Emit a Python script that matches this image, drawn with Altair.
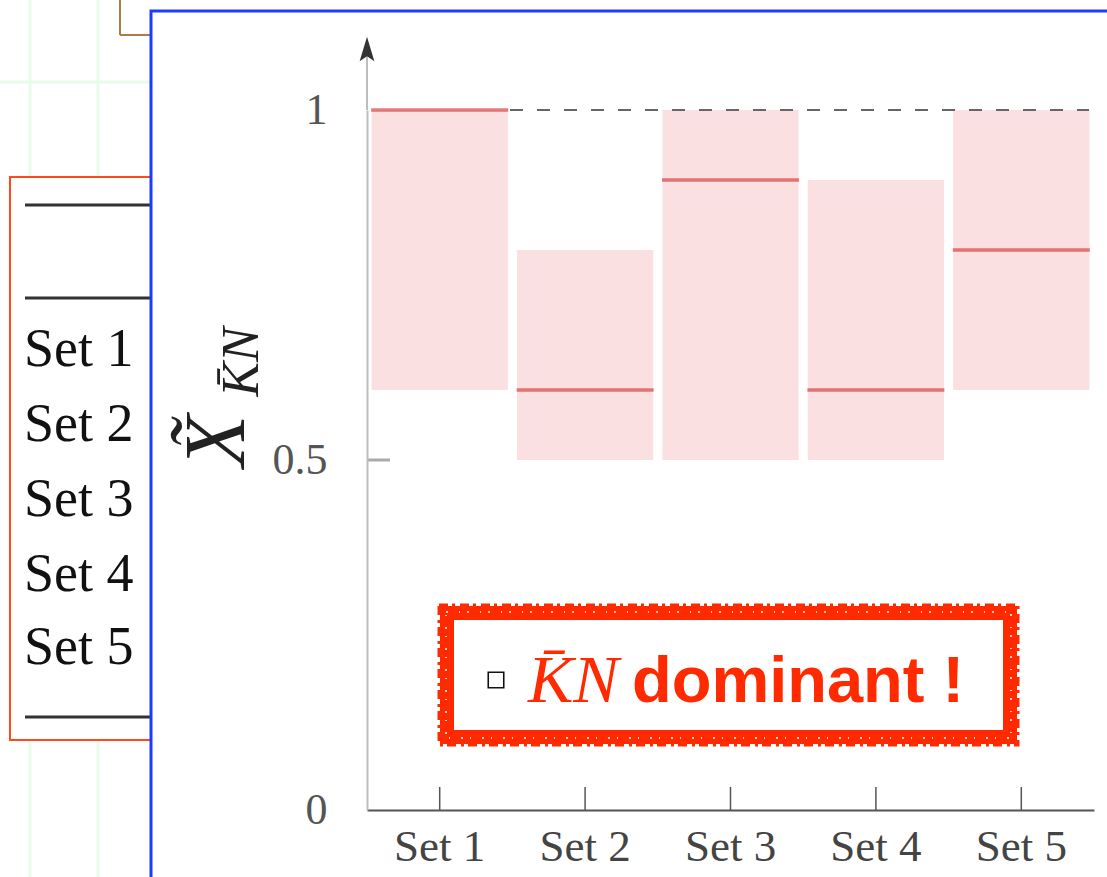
import altair as alt
import pandas as pd

# Interval per parameter set: lower edge, upper edge and central value
sets = ["Set 1", "Set 2", "Set 3", "Set 4", "Set 5"]
low = [0.6, 0.5, 0.5, 0.5, 0.6]
high = [1.0, 0.8, 1.0, 0.9, 1.0]
central = [1.0, 0.6, 0.9, 0.6, 0.8]
y_ticks = [0, 0.5, 1]

df = pd.DataFrame({"set": sets, "low": low, "high": high, "central": central})
one = pd.DataFrame({"k": [0]})

# plot area origin on the page
OX, OY = 367, 110
W, H = 727, 700


def px(v):
    return alt.value(v - OX)


def py(v):
    return alt.value(v - OY)


xs = alt.Scale(domain=sets, paddingInner=0.063, paddingOuter=0.0315)
ys = alt.Scale(domain=[0, 1])
X = alt.X("set:N", scale=xs, sort=sets,
          axis=alt.Axis(title=None, labelAngle=0, ticks=False, domainColor="#555",
                        domainWidth=2, labelFont="Liberation Serif", labelFontSize=45,
                        labelColor="#444", labelPadding=14, zindex=1))

# ---- slide backdrop ----
grid_v = [
    alt.Chart(one).mark_rule(color="#e9fbe9", strokeWidth=3).encode(x=px(gx), y=py(0), y2=py(877))
    for gx in (30, 98)
]
grid_h = alt.Chart(one).mark_rule(color="#e9fbe9", strokeWidth=3).encode(
    x=px(0), x2=px(150), y=py(82))
brown = alt.Chart(one).mark_rule(color="#b07a45", strokeWidth=2).encode(
    x=px(120), y=py(0), y2=py(35))
brown_h = alt.Chart(one).mark_rule(color="#b07a45", strokeWidth=2).encode(
    x=px(120), x2=px(152), y=py(35))

table_box = alt.Chart(one).mark_rect(fill="white", stroke="#ff4a1c", strokeWidth=2).encode(
    x=px(10), x2=px(200), y=py(177), y2=py(740))
table_lines = [
    alt.Chart(one).mark_rule(color="#333", strokeWidth=3).encode(x=px(25), x2=px(152), y=py(yy))
    for yy in (205, 298, 717)
]
table_text = [
    alt.Chart(one).mark_text(text=s, align="left", baseline="middle", font="Liberation Serif",
                             fontSize=54, color="#111").encode(x=px(24), y=py(yy))
    for s, yy in zip(sets, (350, 425, 500, 575, 648))
]

blue_box = alt.Chart(one).mark_rect(fill="white", stroke="#1a3cff", strokeWidth=3).encode(
    x=px(151), x2=px(1130), y=py(11), y2=py(900))

# ---- chart body ----
bars = alt.Chart(df).mark_bar(color="#fbe0e1").encode(
    x=X, y=alt.Y("low:Q", scale=ys,
                 axis=alt.Axis(values=y_ticks, title=None, ticks=False, grid=False,
                               domainColor="#bdbdbd", domainWidth=2, zindex=1,
                               labelFont="Liberation Serif", labelFontSize=44,
                               labelColor="#555", labelPadding=40,
                               labelExpr="datum.value == 0.5 ? '0.5' : format(datum.value, 'd')")),
    y2="high:Q")

# dashed reference at unity, to the right of the first interval
ref_line = alt.Chart(one).mark_rule(color="#666", strokeWidth=2, strokeDash=[13, 14]).encode(
    x=alt.value(143), x2=alt.value(722), y=alt.datum(1))

centers = alt.Chart(df).mark_tick(color="#d94444", thickness=3.5, size=137).encode(
    x=alt.X("set:N", scale=xs, sort=sets), y=alt.Y("central:Q", scale=ys))

x_ticks = alt.Chart(df).mark_rule(color="#555", strokeWidth=1.5).encode(
    x=alt.X("set:N", scale=xs, sort=sets), y=alt.value(H), y2=alt.value(H - 23))
y_tick = alt.Chart(one).mark_rule(color="#aaa", strokeWidth=3).encode(
    x=alt.value(0), x2=alt.value(23), y=alt.datum(0.5))

axis_ext = alt.Chart(one).mark_rule(color="#bdbdbd", strokeWidth=2).encode(
    x=alt.value(0), y=alt.value(0), y2=alt.value(-56))
arrow = alt.Chart(one).mark_point(shape="M-0.6,1L0,-1L0.6,1L0,0.6Z", filled=True, color="#333",
                                  size=600, opacity=1).encode(x=alt.value(0), y=alt.value(-61))

y_title_main = alt.Chart(one).mark_text(text="X\u0303", angle=270, font="Liberation Serif",
                                        fontStyle="italic", fontSize=86, color="#222",
                                        baseline="alphabetic").encode(x=px(244), y=py(441))
y_title_sub = alt.Chart(one).mark_text(text="K\u0304N", angle=270, font="Liberation Serif",
                                       fontStyle="italic", fontSize=52, color="#222",
                                       baseline="alphabetic").encode(x=px(258), y=py(362))

# ---- stamped note ----
stamp = alt.Chart(one).mark_rect(fill="white", stroke="#ff2a00", strokeWidth=14).encode(
    x=px(447), x2=px(1010), y=py(613), y2=py(737))
stamp_grain = alt.Chart(one).mark_rect(fill=None, stroke="white", strokeWidth=1.5,
                                       strokeDash=[2, 11, 1, 7]).encode(
    x=px(446), x2=px(1011), y=py(612), y2=py(738))
stamp_edge = alt.Chart(one).mark_rect(fill=None, stroke="#ff2a00", strokeWidth=3,
                                      strokeDash=[9, 4, 3, 5]).encode(
    x=px(439), x2=px(1018), y=py(605), y2=py(745))
box = alt.Chart(one).mark_point(shape="square", filled=False, color="#111",
                                strokeWidth=1.6, size=240, opacity=1).encode(x=px(496), y=py(680))
kn = alt.Chart(one).mark_text(text="K\u0304N", align="left", baseline="alphabetic",
                              font="Liberation Serif", fontStyle="italic", fontSize=68,
                              color="#ff2a00").encode(x=px(528), y=py(702))
dom = alt.Chart(one).mark_text(text="dominant !", align="left", baseline="alphabetic",
                               font="Liberation Sans", fontWeight="bold", fontSize=65,
                               color="#ff2a00").encode(x=px(632), y=py(702))

chart = alt.layer(
    *grid_v, grid_h, brown, brown_h, table_box, *table_lines, *table_text, blue_box,
    bars, ref_line, centers, x_ticks, y_tick, axis_ext, arrow,
    y_title_main, y_title_sub, stamp, stamp_grain, stamp_edge, box, kn, dom,
).properties(
    width=W, height=H,
    autosize=alt.AutoSizeParams(type="none"),
    padding={"left": OX, "top": OY, "right": 1107 - OX - W, "bottom": 877 - OY - H},
    background="white",
).configure_view(stroke=None)

chart.save("out.html", embed_options={"renderer": "svg", "actions": False})
